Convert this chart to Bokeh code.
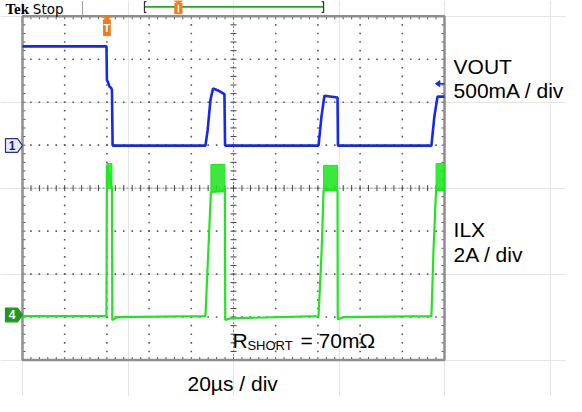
from bokeh.plotting import figure
from bokeh.models import Range1d
from bokeh.core.properties import value
from bokeh.embed import file_html
from bokeh.resources import INLINE

# ---------------- data ----------------
# time in microseconds (20 us / div), amplitude in screen divisions (centre line = 0)
time_per_div = 20.0
n_xdiv = 10
n_ydiv = 8

# VOUT trace (channel 1, blue)
vout_t = [0, 39.8, 40.0, 40.8, 41.2, 41.9, 42.4, 42.7, 86.7, 87.7, 89.1, 90.3,
          92.4, 95.7, 96.0, 140.3, 141.7, 143.1, 149.3, 149.5, 193.8, 195.2, 196.7, 200]
vout_v = [3.30, 3.30, 2.52, 2.43, 2.36, 2.34, 2.29, 0.99, 0.99, 1.33, 2.06, 2.32,
          2.28, 2.19, 0.99, 0.99, 1.67, 2.15, 2.11, 0.99, 0.99, 1.67, 2.13, 2.13]

# ILX trace (channel 4, green)
ilx_t = [0, 39.8, 40.0, 42.4, 42.55, 45.0, 86.7, 88.1, 89.3, 95.9, 96.1, 98.6,
         140.3, 141.7, 142.7, 149.3, 149.4, 152.6, 193.8, 194.8, 196.0, 200]
ilx_v = [-2.98, -2.98, 0.53, 0.0, -3.07, -3.0, -2.98, -1.42, -0.09, -0.05, -3.07, -3.03,
         -2.98, -1.54, -0.05, -0.05, -3.05, -3.0, -2.98, -1.42, -0.05, -0.05]

# noisy switching bursts of ILX (envelope)
ilx_burst_start = [40.0, 89.3, 142.7, 196.0]
ilx_burst_end = [42.4, 95.9, 149.3, 200.0]
ilx_burst_top = [0.57, 0.55, 0.53, 0.57]
ilx_burst_bottom = [0.0, -0.09, -0.05, -0.05]

ch1_ground = 0.99
ch4_ground = -2.95
trigger_t = 40.0
record_start_t = 57.8
record_end_t = 142.7
record_trigger_t = 73.9
ch1_ref_level = 2.43

labels_right = ["VOUT", "500mA / div", "ILX", "2A / div"]
label_right_y = [2.831, 2.269, -0.974, -1.536]

BLUE = "#1428ee"
GREEN = "#1fe61f"
ORANGE = "#f07a1e"
DKGREEN = "#1f9a1f"
FONT = "Liberation Sans"

# ---------------- figure ----------------
px_per_us = 42.2 / time_per_div
px_per_div = 42.97
W, H = 566, 396
left_px, top_px = 22, 15.76
x0 = -left_px / px_per_us
x1 = (W - left_px) / px_per_us
y1 = n_ydiv / 2 + top_px / px_per_div
y0 = y1 - H / px_per_div

p = figure(width=W, height=H, x_range=Range1d(x0, x1), y_range=Range1d(y0, y1),
           output_backend="svg", toolbar_location=None, min_border=0,
           x_axis_location=None, y_axis_location=None, title=None)
p.outline_line_color = None
p.background_fill_color = "white"
p.border_fill_color = "white"

t_end = n_xdiv * time_per_div
d_top = n_ydiv / 2
sub = 5

# grid dots
gx, gy = [], []
for i in range(1, n_xdiv):
    if i == n_xdiv // 2:
        continue
    for k in range(-n_ydiv // 2 * sub, n_ydiv // 2 * sub + 1):
        gx.append(i * time_per_div)
        gy.append(k / sub)
for j in range(-n_ydiv // 2 + 1, n_ydiv // 2):
    if j == 0:
        continue
    for k in range(0, n_xdiv * sub + 1):
        gx.append(k * time_per_div / sub)
        gy.append(j)
p.scatter(gx, gy, marker="square", size=1.6, fill_color="#5a5a5a", line_color=None)

# centre cross
p.line([0, t_end], [0, 0], line_color="#8a8a8a", line_width=1, line_dash="2 2")
p.line([t_end / 2, t_end / 2], [-d_top, d_top], line_color="#8a8a8a", line_width=1, line_dash="2 2")
tick_h = 3 / px_per_div
tick_w = 3 / px_per_us
cx = [k * time_per_div / sub for k in range(n_xdiv * sub + 1)]
cy = [k / sub for k in range(-n_ydiv // 2 * sub, n_ydiv // 2 * sub + 1)]
p.segment(x0=cx, y0=[-tick_h] * len(cx), x1=cx, y1=[tick_h] * len(cx), line_color="#444444", line_width=1)
p.segment(x0=[t_end / 2 - tick_w] * len(cy), y0=cy, x1=[t_end / 2 + tick_w] * len(cy), y1=cy,
          line_color="#444444", line_width=1)

# border ticks
p.segment(x0=cx, y0=[d_top] * len(cx), x1=cx, y1=[d_top - tick_h] * len(cx), line_color="#555555")
p.segment(x0=cx, y0=[-d_top] * len(cx), x1=cx, y1=[-d_top + tick_h] * len(cx), line_color="#555555")
p.segment(x0=[0] * len(cy), y0=cy, x1=[tick_w] * len(cy), y1=cy, line_color="#555555")
p.segment(x0=[t_end] * len(cy), y0=cy, x1=[t_end - tick_w] * len(cy), y1=cy, line_color="#555555")
# border
p.quad(left=[0], right=[t_end], top=[d_top], bottom=[-d_top], fill_color=None,
       line_color="#8e8e8e", line_width=2.5)

# traces
p.quad(left=ilx_burst_start, right=ilx_burst_end, top=ilx_burst_top, bottom=ilx_burst_bottom,
       fill_color=GREEN, fill_alpha=0.88, line_color=GREEN, line_width=1)
p.line(ilx_t, ilx_v, line_color=GREEN, line_width=2.2)
p.line(vout_t, vout_v, line_color=BLUE, line_width=2.6)

# channel markers
mh = 0.16
mx = [-8.06, -2.37, 0, -2.37, -8.06]
p.patch(mx, [ch1_ground + mh, ch1_ground + mh, ch1_ground, ch1_ground - mh, ch1_ground - mh],
        fill_color="#e8ecff", line_color="#2a2a9a", line_width=1.2)
p.text([-4.9], [ch1_ground], text=["1"], text_color="#1a1a80", text_font=value(FONT),
       text_font_size="12px", text_font_style="bold", text_align="center", text_baseline="middle")
p.patch(mx, [ch4_ground + mh, ch4_ground + mh, ch4_ground, ch4_ground - mh, ch4_ground - mh],
        fill_color=DKGREEN, line_color=DKGREEN, line_width=1.2)
p.text([-4.9], [ch4_ground], text=["4"], text_color="white", text_font=value(FONT),
       text_font_size="12px", text_font_style="bold", text_align="center", text_baseline="middle")

# trigger marker on graticule
p.patch([trigger_t - 2.1, trigger_t + 2.1, trigger_t],
        [d_top - 0.01, d_top - 0.01, d_top - 0.08], fill_color=ORANGE, line_color=ORANGE)
p.quad(left=[trigger_t - 1.6], right=[trigger_t + 1.6], top=[d_top - 0.08], bottom=[d_top - 0.45],
       fill_color=ORANGE, line_color=ORANGE)
p.text([trigger_t], [d_top - 0.265], text=["T"], text_color="white", text_font=value(FONT),
       text_font_size="11px", text_font_style="bold", text_align="center", text_baseline="middle")

# reference arrow at right (channel 1)
p.patch([195.7, 197.8, 197.8], [ch1_ref_level, ch1_ref_level + 0.07, ch1_ref_level - 0.07],
        fill_color=BLUE, line_color=BLUE)
p.line([197.8, 200], [ch1_ref_level, ch1_ref_level], line_color=BLUE, line_width=1.5)

# top status bar
bar_y = 4.218
p.line([record_start_t, record_end_t], [bar_y, bar_y], line_color="#22aa22", line_width=1.8)
p.line([record_start_t + 0.9, record_start_t, record_start_t, record_start_t + 0.9],
       [4.34, 4.34, 4.09, 4.09], line_color="#333333", line_width=1.2)
p.line([record_end_t - 0.9, record_end_t, record_end_t, record_end_t - 0.9],
       [4.34, 4.34, 4.09, 4.09], line_color="#333333", line_width=1.2)
p.patch([record_trigger_t - 1.9, record_trigger_t + 1.9, record_trigger_t],
        [4.36, 4.36, 4.30], fill_color=ORANGE, line_color=ORANGE)
p.quad(left=[record_trigger_t - 1.7], right=[record_trigger_t + 1.7], top=[4.30], bottom=[4.06],
       fill_color=ORANGE, line_color=ORANGE)
p.line([record_trigger_t, record_trigger_t], [4.27, 4.09], line_color="white", line_width=1.5)
p.line([28.4, 28.4], [4.355, 4.034], line_color="#999999", line_width=1)
p.text([-8.06], [4.169], text=["Tek"], text_color="black", text_font=value("Liberation Serif"),
       text_font_size="15px", text_font_style="bold", text_align="left", text_baseline="middle")
p.text([4.9], [4.169], text=["Stop"], text_color="black", text_font=value("DejaVu Sans"),
       text_font_size="13.5px", text_align="left", text_baseline="middle")

# annotation texts
p.text([204.3] * 4, label_right_y, text=labels_right, text_color="black", text_font=value(FONT),
       text_font_size="21px", text_align="left", text_baseline="middle")
p.text([99.5], [-3.542], text=["R"], text_color="black", text_font=value(FONT),
       text_font_size="21px", text_align="left", text_baseline="middle")
p.text([106.6], [-3.656], text=["SHORT"], text_color="black", text_font=value(FONT),
       text_font_size="13px", text_align="left", text_baseline="middle")
p.text([131.75], [-3.542], text=["= 70mΩ"], text_color="black", text_font=value(FONT),
       text_font_size="21px", text_align="left", text_baseline="middle")
p.text([78.2], [-4.55], text=["20µs / div"], text_color="black", text_font=value(FONT),
       text_font_size="21px", text_align="left", text_baseline="middle")

open("out.html", "w").write(file_html(p, INLINE))
